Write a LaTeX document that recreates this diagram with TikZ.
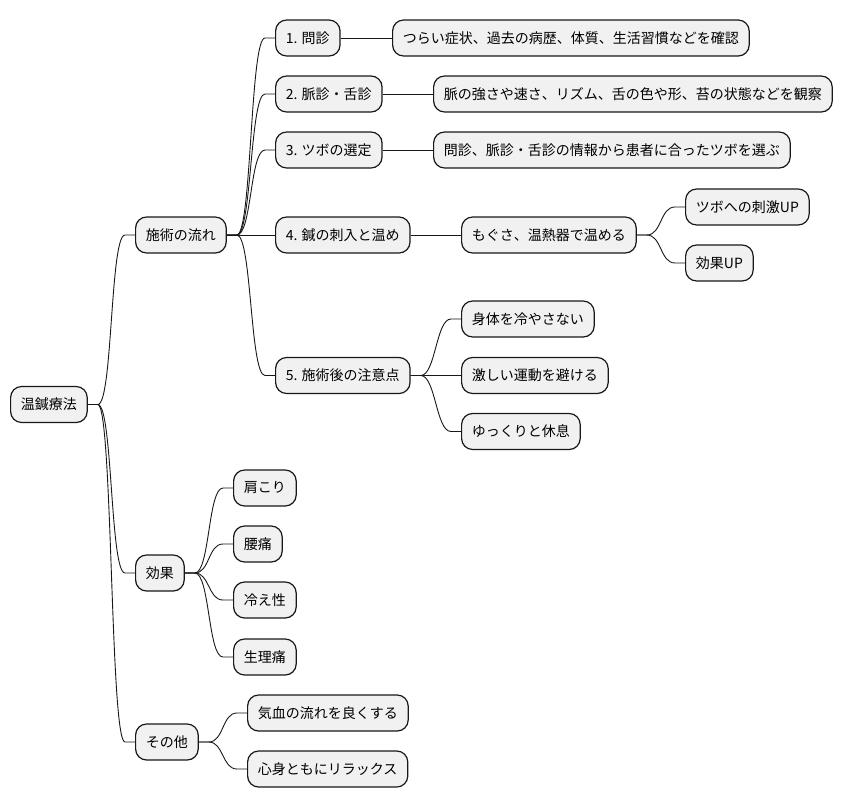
\documentclass[tikz,border=0pt]{standalone}
\usepackage{fontspec}
\setmainfont{Noto Sans CJK JP}
\usetikzlibrary{positioning}
\definecolor{boxfill}{HTML}{F1F1F1}
\definecolor{boxline}{HTML}{181818}
\tikzset{
  mmnode/.style={draw=boxline, fill=boxfill, line width=1.2pt, rounded corners=11pt,
    minimum height=36pt, inner xsep=10.3pt, inner ysep=0pt, anchor=west,
    font=\fontsize{14pt}{16pt}\selectfont},
  mmline/.style={draw=boxline, line width=0.9pt}
}
% parent -> child connector (mind map style)
\newcommand{\mmlink}[2]{%
  \draw[mmline] (#1.east) -- ++(10,0) .. controls +(15,0) and +(-15,0) .. ([xshift=-10pt]#2.west) -- (#2.west);}
\begin{document}
\begin{tikzpicture}[x=1pt, y=-1pt]
\useasboundingbox (0,0) rectangle (842,809);

% root
\node[mmnode] (root) at (10,404.5) {温鍼療法};

% first level
\node[mmnode] (flow) at (135,235) {施術の流れ};
\node[mmnode] (effect) at (135,573) {効果};
\node[mmnode] (other) at (135,742) {その他};

% steps
\node[mmnode] (s1) at (275,38) {1. 問診};
\node[mmnode] (s2) at (275,94) {2. 脈診・舌診};
\node[mmnode] (s3) at (275,150) {3. ツボの選定};
\node[mmnode] (s4) at (275,235) {4. 鍼の刺入と温め};
\node[mmnode] (s5) at (275,375.5) {5. 施術後の注意点};

% step details
\node[mmnode] (d1) at (392,38) {つらい症状、過去の病歴、体質、生活習慣などを確認};
\node[mmnode] (d2) at (433,94) {脈の強さや速さ、リズム、舌の色や形、苔の状態などを観察};
\node[mmnode] (d3) at (433,150) {問診、脈診・舌診の情報から患者に合ったツボを選ぶ};
\node[mmnode] (d4) at (461,235) {もぐさ、温熱器で温める};
\node[mmnode] (d4a) at (685,207) {ツボへの刺激UP};
\node[mmnode] (d4b) at (685,263) {効果UP};
\node[mmnode] (d5a) at (461,319) {身体を冷やさない};
\node[mmnode] (d5b) at (461,375.5) {激しい運動を避ける};
\node[mmnode] (d5c) at (461,431.5) {ゆっくりと休息};

% effects
\node[mmnode] (e1) at (233,488) {肩こり};
\node[mmnode] (e2) at (233,544) {腰痛};
\node[mmnode] (e3) at (233,600) {冷え性};
\node[mmnode] (e4) at (233,657) {生理痛};

% others
\node[mmnode] (o1) at (247,713) {気血の流れを良くする};
\node[mmnode] (o2) at (247,769) {心身ともにリラックス};

% connectors
\mmlink{root}{flow}
\mmlink{root}{effect}
\mmlink{root}{other}
\mmlink{flow}{s1}
\mmlink{flow}{s2}
\mmlink{flow}{s3}
\draw[mmline] (flow) -- (s4);
\mmlink{flow}{s5}
\draw[mmline] (s1) -- (d1);
\draw[mmline] (s2) -- (d2);
\draw[mmline] (s3) -- (d3);
\draw[mmline] (s4) -- (d4);
\mmlink{d4}{d4a}
\mmlink{d4}{d4b}
\mmlink{s5}{d5a}
\draw[mmline] (s5) -- (d5b);
\mmlink{s5}{d5c}
\mmlink{effect}{e1}
\mmlink{effect}{e2}
\mmlink{effect}{e3}
\mmlink{effect}{e4}
\mmlink{other}{o1}
\mmlink{other}{o2}
\end{tikzpicture}
\end{document}
